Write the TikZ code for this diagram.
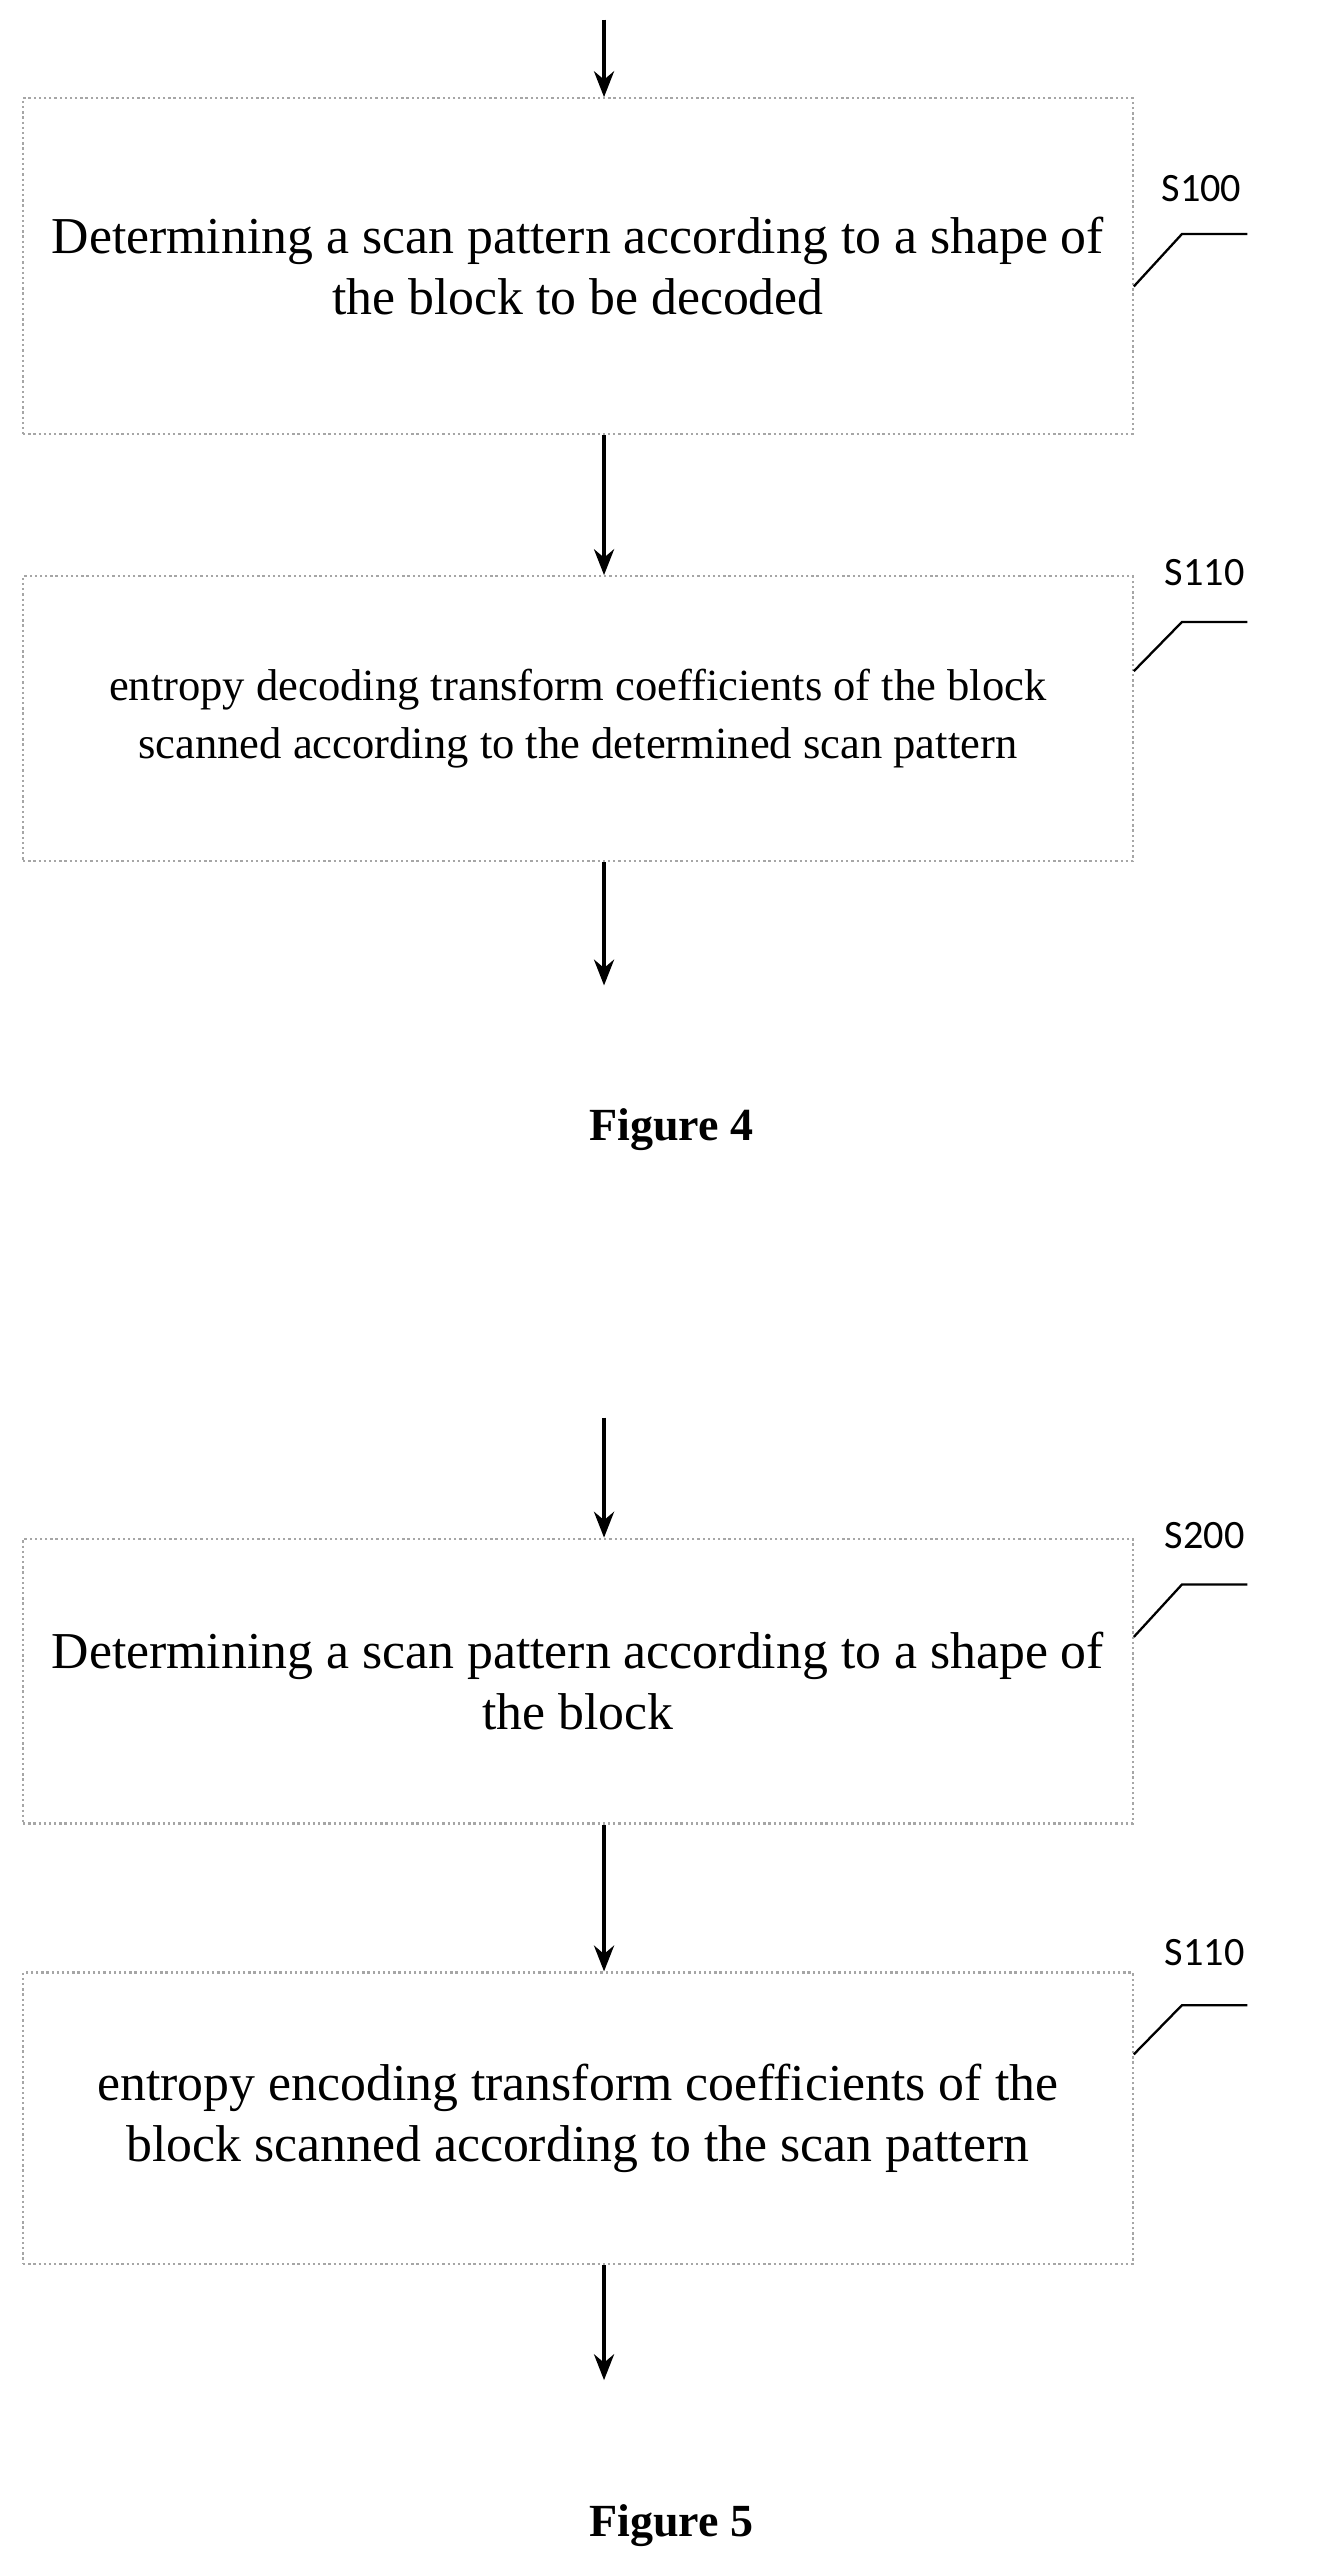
\documentclass[tikz,border=0pt]{standalone}
\usepackage{fontspec}
\setmainfont{Liberation Serif}
\newfontfamily\labelfont{Carlito}
\usetikzlibrary{arrows.meta}
\tikzset{
  stepbox/.style={draw=gray!70,densely dotted,line width=0.8pt,minimum width=13.56cm,
    align=center,inner sep=0pt},
  flow/.style={-{Stealth[length=9pt,width=7pt]},line width=1.2pt},
  leader/.style={line width=0.8pt},
  steplabel/.style={font=\labelfont\fontsize{14}{16}\selectfont},
  caption/.style={font=\bfseries\fontsize{16}{19}\selectfont}
}
\begin{document}
\begin{tikzpicture}[x=0.02cm,y=-0.02cm]
  \useasboundingbox (0,0) rectangle (806,1570);
  % Figure 4
  \coordinate (in4) at (369,12);
  \node[stepbox,minimum height=4.1cm,font=\fontsize{18}{21}\selectfont] (s100) at (353,162.5)
    {Determining a scan pattern according to a shape of\\the block to be decoded};
  \node[stepbox,minimum height=3.48cm,font=\fontsize{15.5}{20}\selectfont] (s110a) at (353,439)
    {entropy decoding transform coefficients of the block\\scanned according to the determined scan pattern};
  \coordinate (out4) at (369,602);
  \draw[flow] (in4) -- (in4 |- s100.north);
  \draw[flow] (s100.south -| in4) -- (s110a.north -| in4);
  \draw[flow] (s110a.south -| in4) -- (out4);
  \node[caption] (fig4) at (410,690) {Figure 4};
  % step labels
  \draw[leader] (s100.east |- 0,175) -- (722,143) -- (762,143);
  \node[steplabel] (l100) at (734,115) {S100};
  \draw[leader] (s110a.east |- 0,410) -- (722,380) -- (762,380);
  \node[steplabel] (l110a) at (736,350) {S110};
  % Figure 5
  \coordinate (in5) at (369,866);
  \node[stepbox,minimum height=3.48cm,font=\fontsize{18}{21}\selectfont] (s200) at (353,1027)
    {Determining a scan pattern according to a shape of\\the block};
  \node[stepbox,minimum height=3.56cm,font=\fontsize{18}{21}\selectfont] (s110b) at (353,1294)
    {entropy encoding transform coefficients of the\\block scanned according to the scan pattern};
  \coordinate (out5) at (369,1454);
  \draw[flow] (in5) -- (in5 |- s200.north);
  \draw[flow] (s200.south -| in5) -- (s110b.north -| in5);
  \draw[flow] (s110b.south -| in5) -- (out5);
  \node[caption] (fig5) at (410,1543) {Figure 5};
  \draw[leader] (s200.east |- 0,1000) -- (722,968) -- (762,968);
  \node[steplabel] (l200) at (736,938) {S200};
  \draw[leader] (s110b.east |- 0,1255) -- (722,1225) -- (762,1225);
  \node[steplabel] (l110b) at (736,1193) {S110};
\end{tikzpicture}
\end{document}
